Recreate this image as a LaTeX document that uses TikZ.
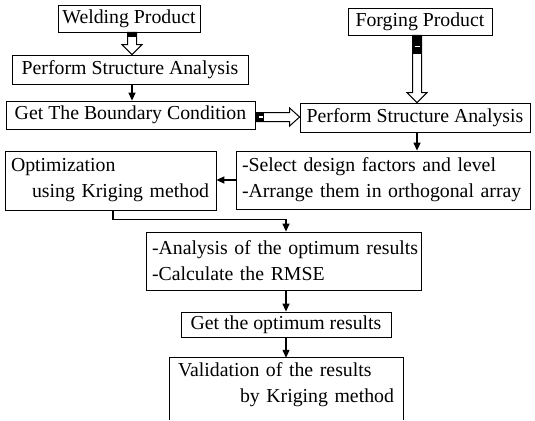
\documentclass[tikz,border=0pt]{standalone}
\usepackage{fontspec}
\setmainfont{Liberation Serif}
\usetikzlibrary{arrows.meta,calc}
\newcommand\hollowdown[3]{%
  \path[hollow] let \p1=(#1),\p2=(#2) in (\x1-4.5pt,\y1) -- (\x1-4.5pt,\y2+10pt) -- (\x1-10pt,\y2+10pt) -- (\x1,\y2) -- (\x1+10pt,\y2+10pt) -- (\x1+4.5pt,\y2+10pt) -- (\x1+4.5pt,\y1) -- cycle;
  \fill let \p1=(#1) in (\x1-4.5pt,\y1) rectangle (\x1+4.5pt,\y1-#3);
}
\newcommand\hollowright[3]{%
  \path[hollow] let \p1=(#1),\p2=(#2) in (\x1,\y1-4.5pt) -- (\x2-10pt,\y1-4.5pt) -- (\x2-10pt,\y1-9pt) -- (\x2,\y1) -- (\x2-10pt,\y1+9pt) -- (\x2-10pt,\y1+4.5pt) -- (\x1,\y1+4.5pt) -- cycle;
  \fill let \p1=(#1) in (\x1,\y1-4.5pt) rectangle (\x1+#3,\y1+4.5pt);
}
\begin{document}
\begin{tikzpicture}[x=1pt,y=-1pt,
  txt/.style={font=\fontsize{19.8}{26}\selectfont},
  box/.style={txt,draw,line width=0.8pt,inner sep=0pt},
  lbox/.style={box,align=left,inner xsep=6pt},
  conn/.style={line width=1.3pt,-{Triangle[length=8pt,width=7pt]}},
  hollow/.style={draw,line width=1pt,fill=white,line join=miter}]
\useasboundingbox (0,0) rectangle (535,420);
\fill[white] (0,0) rectangle (535,420);
% boxes
\node[box,minimum width=142pt,minimum height=27pt] (wp) at (129,18.5) {Welding Product};
\node[box,minimum width=236pt,minimum height=29pt] (psa1) at (130,69.5) {Perform Structure Analysis};
\node[box,minimum width=249pt,minimum height=28pt] (gbc) at (130.5,115) {Get The Boundary Condition};
\node[box,minimum width=144pt,minimum height=27pt] (fp) at (420,21.5) {Forging Product};
\node[box,minimum width=230pt,minimum height=29pt] (psa2) at (415,117.5) {Perform Structure Analysis};
\node[lbox,minimum width=211pt,minimum height=59pt,text width=199pt] (opt) at (110.5,180.5)
  {\mbox{Optimization}\\\mbox{\hspace*{21pt}using Kriging method}};
\node[lbox,minimum width=294pt,minimum height=58pt,text width=282pt] (sel) at (383,180)
  {\mbox{-Select design factors and level}\\\mbox{-Arrange them in orthogonal array}};
\node[lbox,minimum width=275pt,minimum height=58pt,text width=263pt] (ana) at (283.5,261)
  {\mbox{-Analysis of the optimum results}\\\mbox{-Calculate the RMSE}};
\node[box,minimum width=210pt,minimum height=25pt] (gor) at (286,324.5) {Get the optimum results};
\node[txt,align=left,inner sep=0pt,inner xsep=8pt,minimum width=233pt,minimum height=53pt,text width=217pt] (val) at (286.5,384.5)
  {\mbox{Validation of the results}\\\mbox{\hspace*{62pt}by Kriging method}};
\draw[line width=0.8pt] ($(val.south west)+(0,9)$) -- (val.north west) -- (val.north east) -- ($(val.south east)+(0,9)$);
% hollow arrows
\coordinate (h1) at ($(wp.south)+(3,0)$);
\coordinate (h1e) at (h1 |- psa1.north);
\hollowdown{h1}{h1e}{5pt}
\coordinate (h2) at ($(fp.south)+(-3,0)$);
\coordinate (h2e) at (h2 |- psa2.north);
\hollowdown{h2}{h2e}{19pt}
\draw[white,line width=1.3pt] let \p1=(h2) in (\x1-2.5pt,\y1-11pt) -- (\x1+2.5pt,\y1-11pt);
\coordinate (h3) at ($(gbc.east)+(1,2)$);
\coordinate (h3e) at (h3 -| psa2.west);
\hollowright{h3}{h3e}{8pt}
\draw[white,line width=1.3pt] let \p1=(h3) in (\x1+3pt,\y1) -- (\x1+7pt,\y1);
% connectors
\draw[conn] ($(psa1.south)+(2,0)$) coordinate (c0) -- (c0 |- gbc.north);
\draw[conn] ($(psa2.south)+(2,0)$) coordinate (c1) -- (c1 |- sel.north);
\draw[conn] (sel.west) -- (sel.west -| opt.east);
\coordinate (c2) at ($(opt.south)+(2.5,0)$);
\coordinate (c3) at ($(ana.north)+(2.5,0)$);
\draw[conn] (c2) -- ($(c2)+(0,9)$) -| (c3);
\draw[conn] ($(ana.south)+(2.5,0)$) coordinate (c4) -- (c4 |- gor.north);
\draw[conn] (gor.south) -- (gor.south |- val.north);
\end{tikzpicture}
\end{document}
